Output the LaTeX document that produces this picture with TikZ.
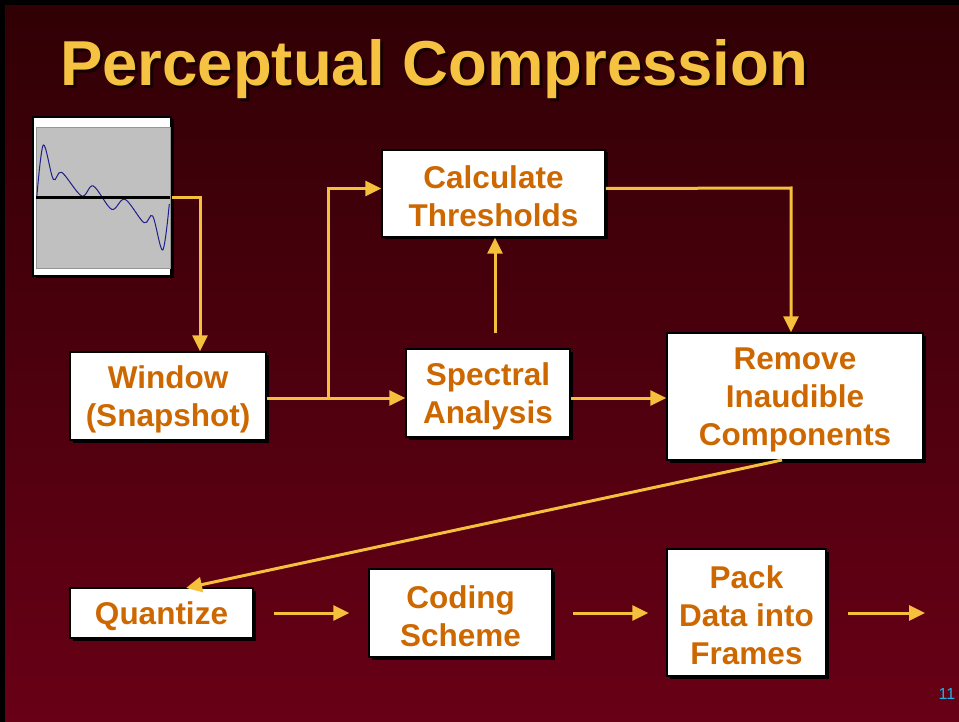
\documentclass[tikz,border=0pt]{standalone}
\usepackage{fontspec}
\setmainfont{Liberation Sans}
\usetikzlibrary{arrows.meta,shadows}
\definecolor{bgtop}{RGB}{48,0,5}
\definecolor{bgbot}{RGB}{104,0,22}
\definecolor{titleyel}{RGB}{245,195,65}
\definecolor{titleshadow}{RGB}{22,0,0}
\definecolor{boxtext}{RGB}{205,104,0}
\definecolor{lineyel}{RGB}{245,192,60}
\definecolor{wavegray}{RGB}{192,192,192}
\definecolor{waveedge}{RGB}{150,150,150}
\definecolor{waveblue}{RGB}{30,30,140}
\definecolor{pgcyan}{RGB}{25,180,235}
\begin{document}
\begin{tikzpicture}[x=1pt,y=-1pt,
  box/.style={draw=black, line width=1.5pt, fill=white, inner sep=0pt,
    drop shadow={shadow xshift=2.5pt, shadow yshift=-2.5pt, opacity=1, fill=black}},
  lbl/.style={text=boxtext, font=\fontsize{31.5}{38}\selectfont\bfseries,
    align=center, inner sep=0pt},
  conn/.style={draw=lineyel, line width=3pt},
  arr/.style={conn, -{Triangle[length=16pt,width=15pt]}}]
\useasboundingbox (0,0) rectangle (959,722);
% background
\fill[black] (0,0) rectangle (959,722);
\shade[top color=bgtop, bottom color=bgbot] (5,6) rectangle (959,722);
% title
\node[anchor=base west, inner sep=0pt, text=titleshadow,
  font=\fontsize{63.5}{70}\selectfont\bfseries] (titleshd) at (63,89) {Perceptual Compression};
\node[anchor=base west, inner sep=0pt, text=titleyel,
  font=\fontsize{63.5}{70}\selectfont\bfseries] (title) at (60,86) {Perceptual Compression};
% waveform picture
\node[box, minimum width=138pt, minimum height=159pt] (wave) at (102,196.5) {};
\fill[wavegray, draw=waveedge, line width=0.8pt] (36,127) rectangle (170,268);
\draw[waveblue, line width=1pt] plot[smooth, tension=0.55] coordinates {
  (36.7,198.3) (43.3,145) (53.3,179.3) (61.7,172.3) (81.7,196) (93.3,186)
  (111.7,209.3) (125,199.3) (144,222.7) (152.7,216) (162.7,250) (169.3,204)};
\draw[black, line width=3pt] (36,198) -- (170,198);
% boxes
\node[box, minimum width=196pt, minimum height=88pt] (win) at (168,396) {};
\node[box, minimum width=223pt, minimum height=87pt] (calc) at (493.5,193.5) {};
\node[box, minimum width=164pt, minimum height=88pt] (spec) at (488,393) {};
\node[box, minimum width=256pt, minimum height=127pt] (rem) at (795,396.5) {};
\node[box, minimum width=183pt, minimum height=50pt] (quant) at (161.5,613) {};
\node[box, minimum width=183pt, minimum height=88pt] (code) at (460.5,613) {};
\node[box, minimum width=159pt, minimum height=127pt] (pack) at (746.5,612.5) {};
% labels
\node[lbl] (winl) at ([yshift=-3pt]win.center) {Window\\(Snapshot)};
\node[lbl] (calcl) at ([yshift=-3pt]calc.center) {Calculate\\Thresholds};
\node[lbl] (specl) at ([yshift=-3pt]spec.center) {Spectral\\Analysis};
\node[lbl] (reml) at ([yshift=-3pt]rem.center) {Remove\\Inaudible\\Components};
\node[lbl] (quantl) at ([yshift=-3pt]quant.center) {Quantize};
\node[lbl] (codel) at ([yshift=-3pt]code.center) {Coding\\Scheme};
\node[lbl] (packl) at ([yshift=-3pt]pack.center) {Pack\\Data into\\Frames};
% connectors
\coordinate (c1) at (200,198);
\draw[arr] (wave.east |- c1) -- (c1) -- (c1 |- win.north);
\coordinate (br) at (328,398);
\draw[arr] (win.east |- br) -- (br -| spec.west);
\draw[arr] (br) |- ([yshift=5pt]calc.west);
\coordinate (s1) at (495,333);
\draw[arr] (s1) -- (s1 |- calc.south);
\coordinate (c2) at (791,188);
\draw[arr] ([yshift=5pt]calc.east) -- (c2) -- (c2 |- rem.north);
\draw[arr] (spec.east |- br) -- (br -| rem.west);
\coordinate (d1) at (782,460);
\coordinate (d2) at (186,588);
\draw[arr] (d1) -- (d2);
\draw[arr] ([xshift=20pt]quant.east) -- ([xshift=-19pt]code.west);
\draw[arr] ([xshift=20pt]code.east) -- ([xshift=-18pt]pack.west |- code.west);
\coordinate (out) at (925,613);
\draw[arr] ([xshift=21pt]pack.east |- out) -- (out);
% page number
\node[text=pgcyan, font=\fontsize{16}{18}\selectfont, inner sep=0pt] (pg) at (947,694) {11};
\end{tikzpicture}
\end{document}
